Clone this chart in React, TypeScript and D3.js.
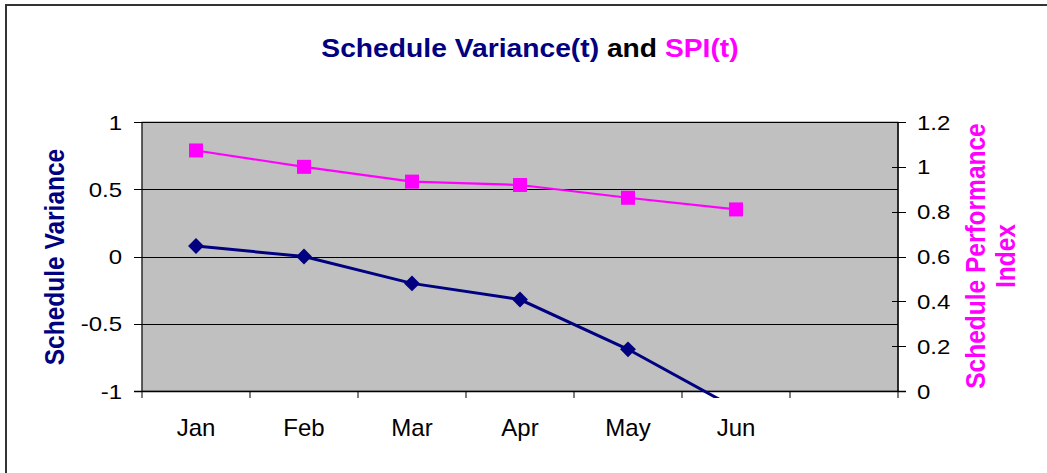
import React from "react";
import * as d3 from "d3";

const categories = ["Jan", "Feb", "Mar", "Apr", "May", "Jun", ""];
const scheduleVariance = [0.078, 0, -0.2, -0.32, -0.69, -1.13];
const spi = [1.073, 1.0, 0.934, 0.919, 0.862, 0.81];
const leftTicks = [-1, -0.5, 0, 0.5, 1];
const rightTicks = [0, 0.2, 0.4, 0.6, 0.8, 1, 1.2];

const W = 1047;
const H = 473;
const plot = { left: 142, right: 898, top: 122, bottom: 391 };
const NAVY = "#000080";
const MAGENTA = "#FF00FF";
const FONT = "'Liberation Sans', Arial, sans-serif";

const App = () => {
  const x = d3
    .scaleBand<string>()
    .domain(categories.map((c, i) => c + i))
    .range([plot.left, plot.right])
    .paddingInner(0)
    .paddingOuter(0);
  const xc = (i: number) => (x(categories[i] + i) as number) + x.bandwidth() / 2;
  const yL = d3.scaleLinear().domain([-1, 1]).range([plot.bottom, plot.top]);
  const yR = d3.scaleLinear().domain([0, 1.2]).range([plot.bottom, plot.top]);

  const svLine = d3
    .line<number>()
    .x((_, i) => xc(i))
    .y((d) => yL(d));
  const spiLine = d3
    .line<number>()
    .x((_, i) => xc(i))
    .y((d) => yR(d));

  const boundaries = d3.range(categories.length + 1).map((i) => plot.left + i * x.bandwidth());
  const diamond = d3.symbol().type(d3.symbolDiamond2).size(160)();

  return (
    <svg
      width={W}
      height={H}
      style={{ position: "absolute", left: 0, top: 0, background: "#fff" }}
      fontFamily={FONT}
    >
      <defs>
        <clipPath id="plotClip">
          <rect x={plot.left} y={plot.top - 10} width={plot.right - plot.left} height={plot.bottom - plot.top + 17} />
        </clipPath>
      </defs>
      <rect x={6} y={5} width={1200} height={700} fill="#fff" stroke="#333" strokeWidth={2} />

      {/* title */}
      <text transform="translate(530,57) scale(1.13,1.05)" textAnchor="middle" fontSize={25} fontWeight="bold">
        <tspan fill={NAVY}>Schedule Variance(t)</tspan>
        <tspan fill="#000"> and </tspan>
        <tspan fill={MAGENTA}>SPI(t)</tspan>
      </text>

      {/* plot area */}
      <rect
        x={plot.left}
        y={plot.top}
        width={plot.right - plot.left}
        height={plot.bottom - plot.top}
        fill="#C0C0C0"
        stroke="#808080"
        strokeWidth={1}
      />
      {leftTicks.map((t) => (
        <line key={"g" + t} x1={plot.left} x2={plot.right} y1={Math.round(yL(t)) + 0.5} y2={Math.round(yL(t)) + 0.5} stroke="#000" strokeWidth={1} />
      ))}

      {/* left axis */}
      <line x1={plot.left} x2={plot.left} y1={plot.top} y2={plot.bottom} stroke="#000" strokeWidth={1} />
      {leftTicks.map((t) => (
        <g key={"l" + t}>
          <line x1={plot.left - 8} x2={plot.left} y1={Math.round(yL(t)) + 0.5} y2={Math.round(yL(t)) + 0.5} stroke="#000" />
          <text transform={`translate(122,${yL(t) + 7.5}) scale(1.2,1)`} textAnchor="end" fontSize={20} fill="#000">
            {t}
          </text>
        </g>
      ))}
      <text transform={`translate(64,257) scale(1.14,1) rotate(-90)`} textAnchor="middle" fontSize={24.5} fontWeight="bold" fill={NAVY}>
        Schedule Variance
      </text>

      {/* right axis */}
      <line x1={plot.right} x2={plot.right} y1={plot.top} y2={plot.bottom} stroke="#000" strokeWidth={1.5} />
      {rightTicks.map((t) => (
        <g key={"r" + t}>
          <line x1={plot.right - 6} x2={plot.right + 8} y1={Math.round(yR(t)) + 0.5} y2={Math.round(yR(t)) + 0.5} stroke="#000" />
          <text transform={`translate(917,${yR(t) + 7.5}) scale(1.2,1)`} textAnchor="start" fontSize={20} fill="#000">
            {t}
          </text>
        </g>
      ))}
      <text transform={`translate(985,256) scale(1.14,1) rotate(-90)`} textAnchor="middle" fontSize={24.5} fontWeight="bold" fill={MAGENTA}>
        Schedule Performance
      </text>
      <text transform={`translate(1015,256) scale(1.14,1) rotate(-90)`} textAnchor="middle" fontSize={24.5} fontWeight="bold" fill={MAGENTA}>
        Index
      </text>

      {/* x axis */}
      <line x1={plot.left - 8} x2={plot.right + 8} y1={plot.bottom + 0.5} y2={plot.bottom + 0.5} stroke="#000" strokeWidth={1.5} />
      {boundaries.map((b, i) => (
        <line key={"b" + i} x1={b} x2={b} y1={plot.bottom} y2={plot.bottom + 7} stroke="#000" />
      ))}
      {categories.map((c, i) => (
        <text key={"c" + i} x={xc(i)} y={436} textAnchor="middle" fontSize={24} fill="#000">
          {c}
        </text>
      ))}

      {/* series */}
      <g clipPath="url(#plotClip)">
        <path d={spiLine(spi) ?? ""} fill="none" stroke={MAGENTA} strokeWidth={2.2} />
        {spi.map((v, i) => (
          <rect key={"s" + i} x={xc(i) - 7} y={yR(v) - 7} width={14} height={14} fill={MAGENTA} />
        ))}
        <path d={svLine(scheduleVariance) ?? ""} fill="none" stroke={NAVY} strokeWidth={3} />
        {scheduleVariance.map((v, i) => (
          <path key={"d" + i} d={diamond ?? ""} transform={`translate(${xc(i)},${yL(v)})`} fill={NAVY} />
        ))}
      </g>
    </svg>
  );
};

export default App;
